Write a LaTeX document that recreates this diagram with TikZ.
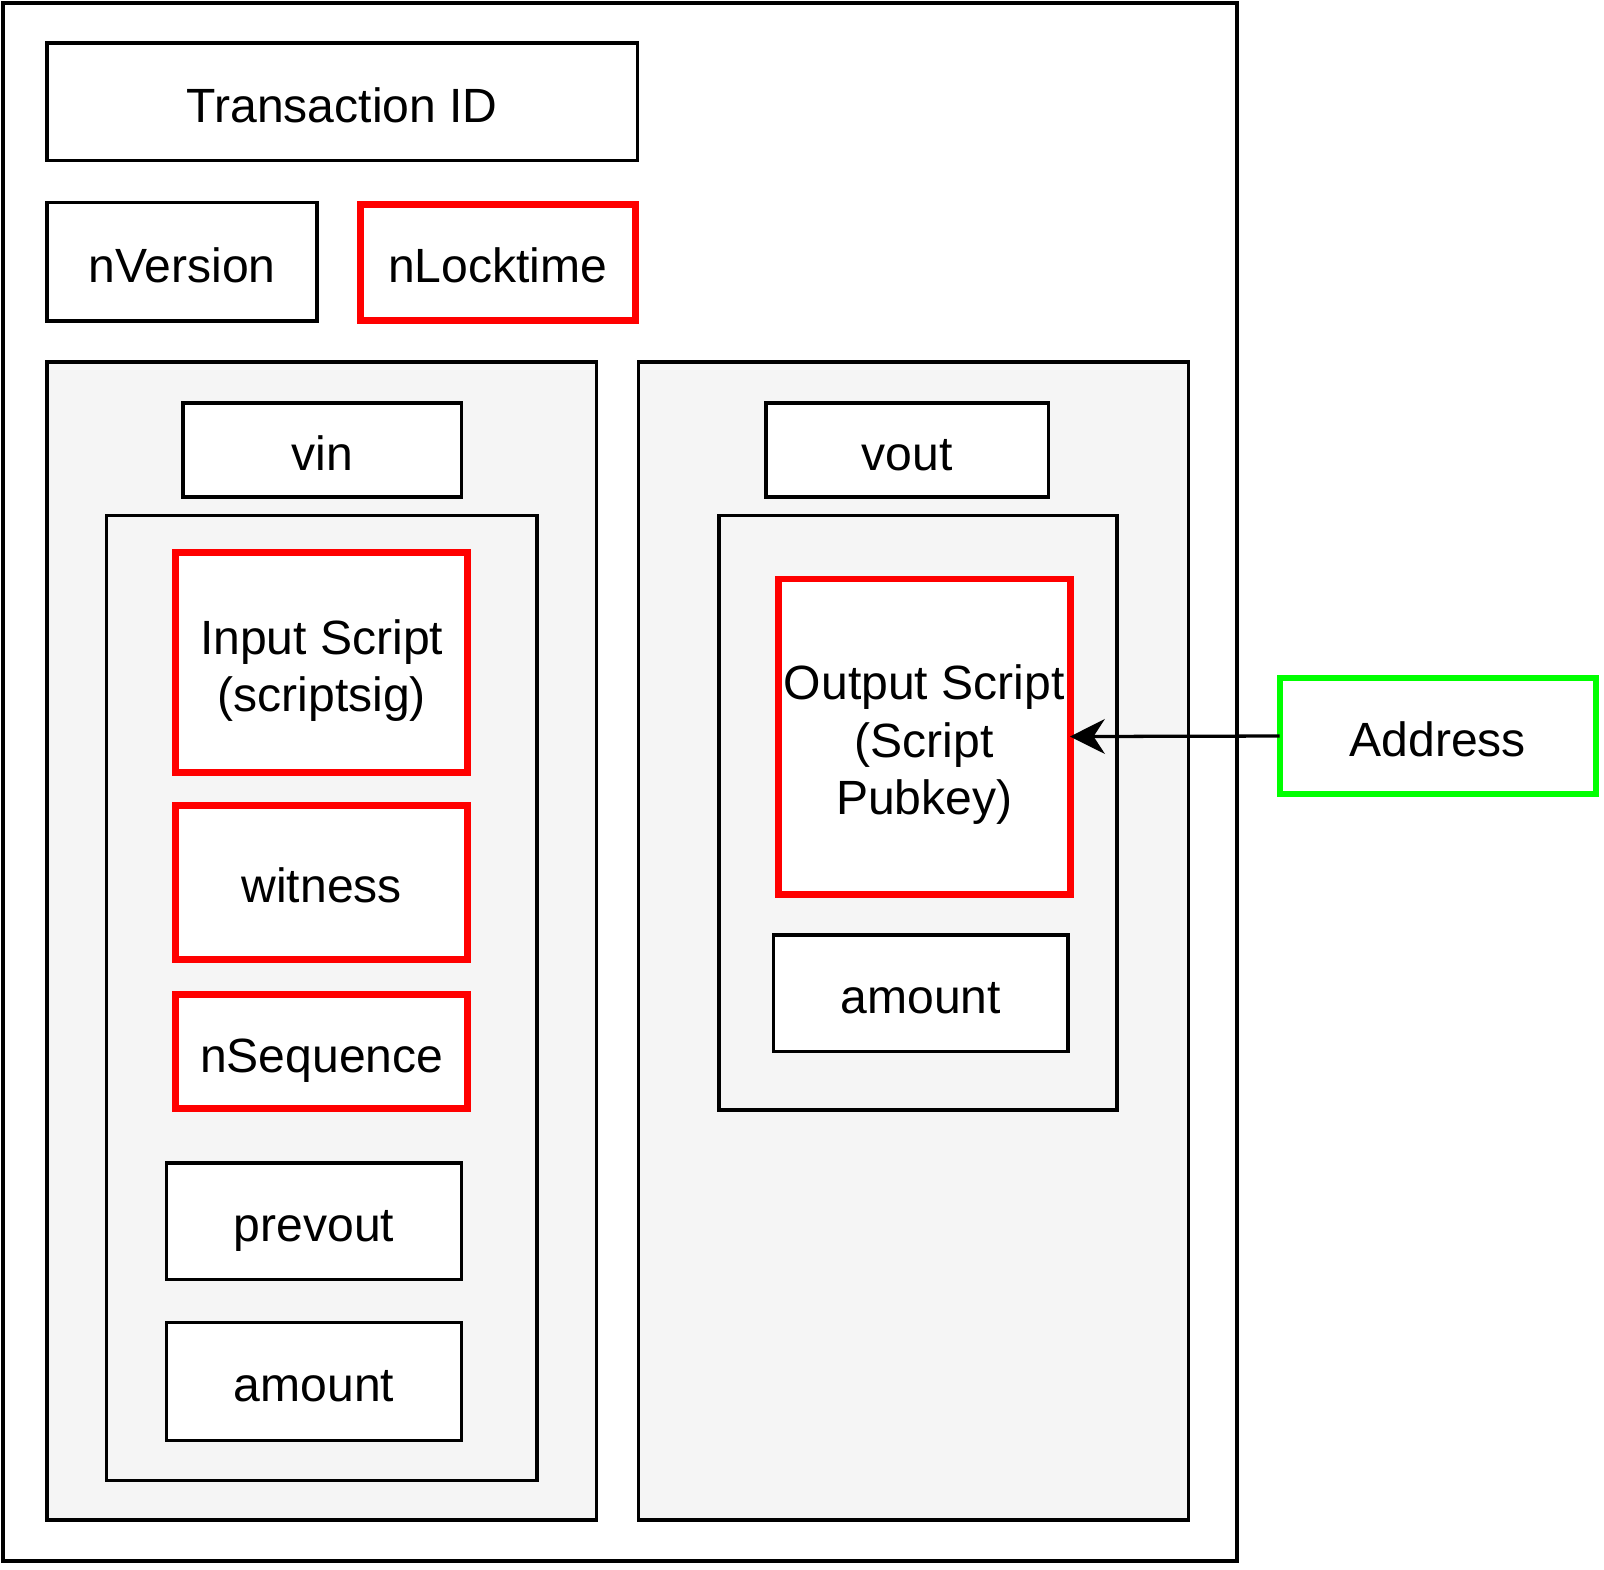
\documentclass[tikz,border=0pt]{standalone}
\usepackage{fontspec}
\setmainfont{Liberation Sans}
\usetikzlibrary{arrows.meta}
\definecolor{panelgray}{HTML}{F5F5F5}
\definecolor{redline}{HTML}{FF0000}
\definecolor{greenline}{HTML}{00FF00}
\tikzset{
  base/.style={rectangle, inner sep=0pt, outer sep=0pt, align=center,
    font=\fontsize{47}{56}\selectfont, text=black, text height=40pt, text depth=0pt},
  blackbox/.style={base, draw=black, line width=3.4pt, fill=white},
  redbox/.style={base, draw=redline, line width=6.8pt, fill=white},
  greenbox/.style={base, draw=greenline, line width=6.3pt, fill=white},
  panel/.style={base, draw=black, line width=3.4pt, fill=panelgray},
  frame/.style={base, draw=black, line width=3.4pt, fill=white},
  arr/.style={draw=black, line width=3.2pt, -{Stealth[length=34pt, width=34pt, inset=11pt]}}
}
\begin{document}
\begin{tikzpicture}[x={(1pt,0)}, y={(0,-1pt)}]
\useasboundingbox (0,0) rectangle (1568,1534);
\fill[white] (0,0) rectangle (1568,1534);
% outer frame
\node[frame, minimum width=1206pt, minimum height=1523pt] (outer) at (606,764.5) {};
% top row
\node[blackbox, minimum width=577pt, minimum height=115pt] (txid) at (334.5,99.5) {Transaction ID};
\node[blackbox, minimum width=264pt, minimum height=116pt] (nver) at (178,256) {nVersion};
\node[redbox, minimum width=269pt, minimum height=113pt] (nlock) at (486.5,256.5) {nLocktime};
% vin side
\node[panel, minimum width=537pt, minimum height=1132pt] (vinpanel) at (314.5,920) {};
\node[blackbox, minimum width=272pt, minimum height=92pt] (vin) at (315,440) {vin};
\node[panel, minimum width=421pt, minimum height=943pt] (vininner) at (314.5,975.5) {};
\node[redbox, minimum width=285pt, minimum height=215pt, text height=96pt] (ins) at (314.5,647.5) {Input Script\\(scriptsig)};
\node[redbox, minimum width=285pt, minimum height=151pt] (wit) at (314.5,862.5) {witness};
\node[redbox, minimum width=285pt, minimum height=112pt] (nseq) at (314.5,1028) {nSequence};
\node[blackbox, minimum width=288pt, minimum height=114pt] (prevout) at (307,1194) {prevout};
\node[blackbox, minimum width=288pt, minimum height=115pt] (amtin) at (307,1350.5) {amount};
% vout side
\node[panel, minimum width=538pt, minimum height=1132pt] (voutpanel) at (893,920) {};
\node[blackbox, minimum width=276pt, minimum height=92pt] (vout) at (887,440) {vout};
\node[panel, minimum width=389pt, minimum height=581pt] (voutinner) at (897.5,794.5) {};
\node[redbox, minimum width=285pt, minimum height=308pt, text height=152pt] (outs) at (903.5,720) {Output Script\\(Script\\Pubkey)};
\node[blackbox, minimum width=288pt, minimum height=114pt] (amtout) at (900,971) {amount};
% address
\node[greenbox, minimum width=309pt, minimum height=113pt] (addr) at (1405.5,719.5) {Address};
\draw[arr] (addr.west) -- (outs.east);
\end{tikzpicture}
\end{document}
